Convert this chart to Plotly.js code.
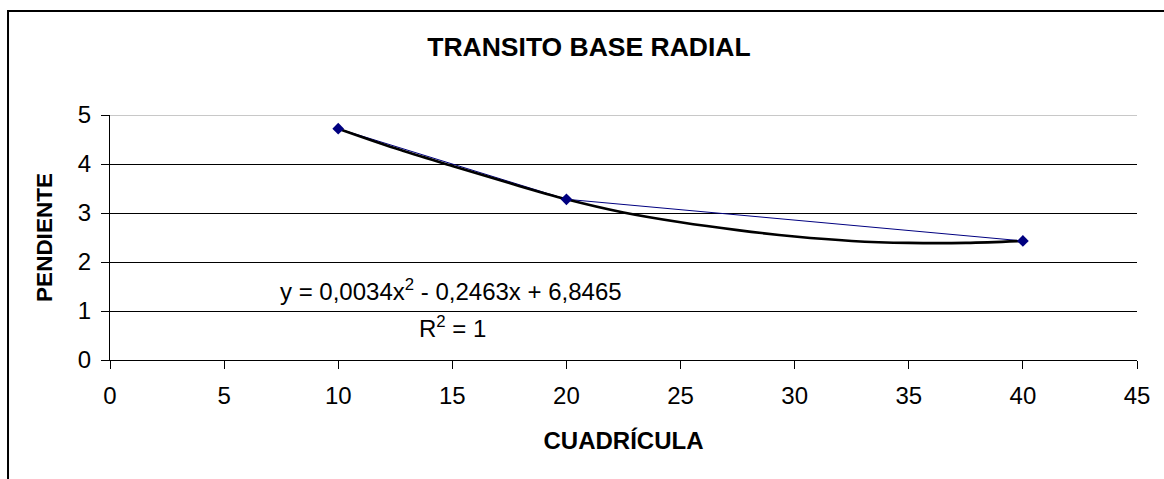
<!DOCTYPE html>
<html>
<head>
<meta charset="utf-8">
<script src="https://cdn.plot.ly/plotly-3.0.1.min.js"></script>
<style>html,body{margin:0;padding:0;background:#fff;overflow:hidden}</style>
</head>
<body>
<div id="chart" style="width:1164px;height:479px"></div>
<script>
// Measured data points (CUADRÍCULA vs PENDIENTE)
const cuadricula = [10, 20, 40];
const pendiente = [4.72, 3.28, 2.43];

// Polynomial trendline
const trendX = [10, 12.5, 15, 17.5, 20, 22.5, 25, 27.5, 30, 32.5, 35, 37.5, 40];
const trendY = [4.72, 4.32, 3.96, 3.61, 3.28, 3.01, 2.81, 2.65, 2.52, 2.43, 2.39, 2.39, 2.43];

const xTicks = [0, 5, 10, 15, 20, 25, 30, 35, 40, 45];
const yTicks = [0, 1, 2, 3, 4, 5];

const titleText = 'TRANSITO BASE RADIAL';
const xTitle = 'CUADRÍCULA';
const yTitle = 'PENDIENTE';
const eqText = 'y = 0,0034x<sup>2</sup> - 0,2463x + 6,8465';
const r2Text = 'R<sup>2</sup> = 1';

const FONT = 'Liberation Sans, Arial, sans-serif';

const traces = [
  {x: cuadricula, y: pendiente, mode: 'lines', type: 'scatter',
   line: {color: '#000080', width: 1}, hoverinfo: 'skip'},
  {x: trendX, y: trendY, mode: 'lines', type: 'scatter',
   line: {color: '#000000', width: 2.6, shape: 'spline'}, hoverinfo: 'skip'},
  {x: cuadricula, y: pendiente, mode: 'markers', type: 'scatter',
   marker: {symbol: 'diamond', size: 9, color: '#000080'}, hoverinfo: 'skip'}
];

const layout = {
  width: 1164, height: 479,
  margin: {l: 110, r: 27, t: 115, b: 119},
  paper_bgcolor: '#ffffff', plot_bgcolor: '#ffffff',
  showlegend: false,
  font: {family: FONT, color: '#000', size: 22},
  title: {text: '<b>' + titleText + '</b>', font: {family: FONT, size: 26.5, color: '#000'},
          xref: 'container', yref: 'container', x: 0.506, y: 0.902,
          xanchor: 'center', yanchor: 'middle'},
  xaxis: {range: [0, 45], tickvals: xTicks, ticktext: xTicks.map(String),
          showgrid: false, zeroline: false, showline: true, linecolor: '#000', linewidth: 1,
          ticks: 'outside', ticklen: 8, tickcolor: '#000', tickwidth: 1,
          ticklabelstandoff: 6,
          tickfont: {family: FONT, size: 24, color: '#000'},
          title: {text: '<b>' + xTitle + '</b>', font: {family: FONT, size: 24, color: '#000'}, standoff: 24},
          fixedrange: true},
  yaxis: {range: [0, 5], tickvals: yTicks, ticktext: yTicks.map(String),
          showgrid: true, gridcolor: '#000', gridwidth: 1,
          zeroline: false, showline: true, linecolor: '#000', linewidth: 1,
          ticks: 'outside', ticklen: 8, tickcolor: '#000', tickwidth: 1,
          ticklabelstandoff: 5,
          tickfont: {family: FONT, size: 24, color: '#000'},
          title: {text: '<b>' + yTitle + '</b>', font: {family: FONT, size: 22.5, color: '#000'}, standoff: 18},
          fixedrange: true},
  shapes: [
    {type: 'line', xref: 'paper', yref: 'y', x0: 0, x1: 1, y0: 5, y1: 5,
     line: {color: '#c8c8c8', width: 2}, layer: 'above'},
    {type: 'rect', xref: 'paper', yref: 'paper', x0: -0.0993, x1: 1.2, y0: -0.7, y1: 1.4245,
     line: {color: '#000', width: 2}, fillcolor: 'rgba(0,0,0,0)'}
  ],
  annotations: [
    {text: eqText, xref: 'x', yref: 'y', x: 14.96, y: 1.43, showarrow: false,
     xanchor: 'center', yanchor: 'middle', font: {family: FONT, size: 24, color: '#000'}},
    {text: r2Text, xref: 'x', yref: 'y', x: 15.0, y: 0.68, showarrow: false,
     xanchor: 'center', yanchor: 'middle', font: {family: FONT, size: 24, color: '#000'}}
  ]
};

Plotly.newPlot('chart', traces, layout, {displayModeBar: false, staticPlot: true});
</script>
</body>
</html>
